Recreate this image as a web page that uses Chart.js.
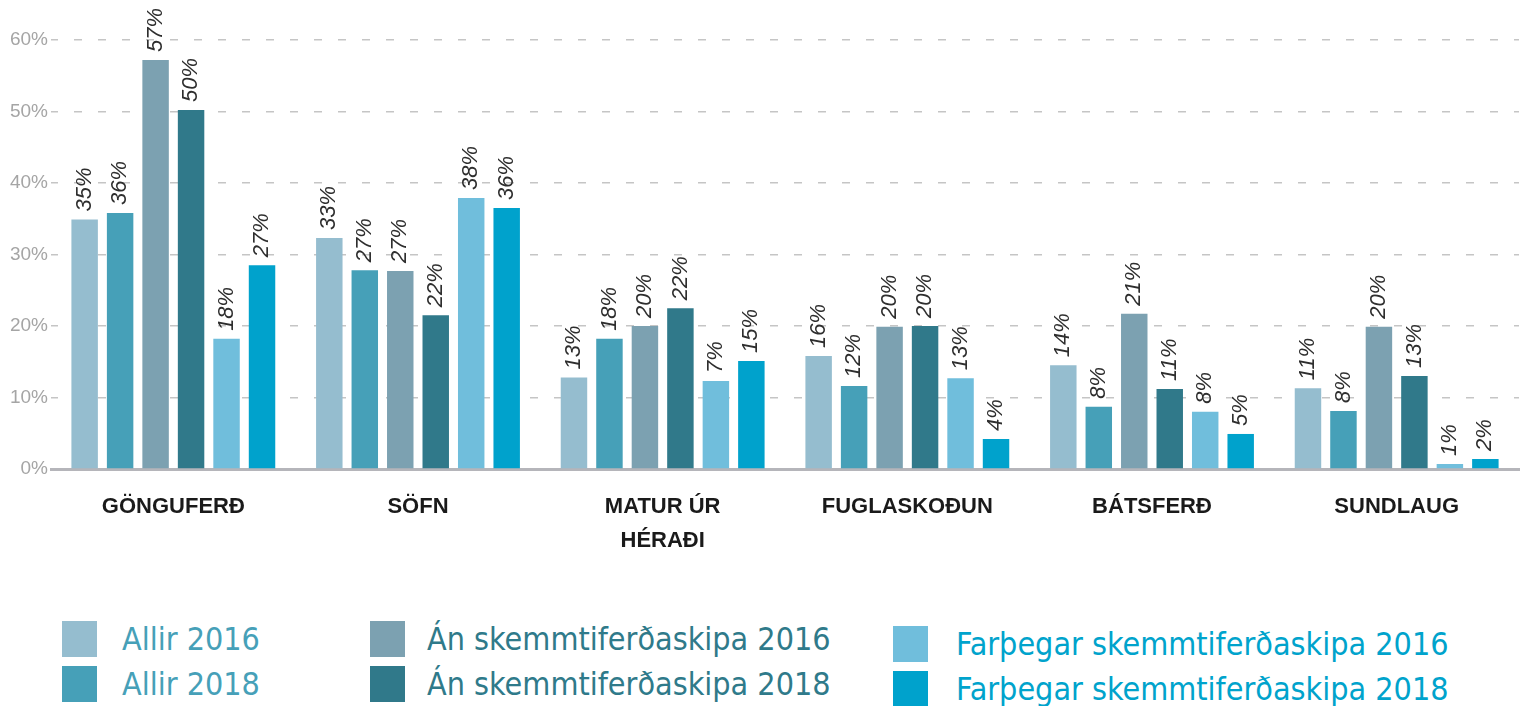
<!DOCTYPE html>
<html>
<head>
<meta charset="utf-8">
<script src="https://cdn.jsdelivr.net/npm/chart.js@4.4.1/dist/chart.umd.min.js"></script>
<style>
  html, body { margin: 0; padding: 0; background: #fff; }
  #wrap { position: relative; width: 1523px; height: 706px; overflow: hidden; }
  #chartBox { position: absolute; left: 0; top: 0; width: 1523px; height: 590px; }
  .leg { position: absolute; display: flex; align-items: center; font-family: 'DejaVu Sans Condensed', 'Liberation Sans Narrow', 'Liberation Sans', sans-serif; font-size: 32px; white-space: nowrap; }
  .leg span.box { display: inline-block; width: 35px; height: 36px; }
</style>
</head>
<body>
<div id="wrap">
  <div id="chartBox"><canvas id="myChart"></canvas></div>
  <div id="legend"></div>
</div>
<script>
const categories = ['GÖNGUFERÐ', 'SÖFN', ['MATUR ÚR', 'HÉRAÐI'], 'FUGLASKOÐUN', 'BÁTSFERÐ', 'SUNDLAUG'];

// bar heights (%)
const allir2016 = [34.9, 32.3, 12.8, 15.8, 14.5, 11.3];
const allir2018 = [35.8, 27.8, 18.2, 11.6, 8.7, 8.1];
const an2016 = [57.2, 27.7, 20.0, 19.9, 21.7, 19.9];
const an2018 = [50.2, 21.5, 22.5, 20.0, 11.2, 13.0];
const farthegar2016 = [18.2, 37.9, 12.3, 12.7, 8.0, 0.7];
const farthegar2018 = [28.5, 36.5, 15.1, 4.2, 4.9, 1.4];

// the printed labels (they don't always match the bar)
const allir2016Labels = [35, 33, 13, 16, 14, 11];
const allir2018Labels = [36, 27, 18, 12, 8, 8];
const an2016Labels = [57, 27, 20, 20, 21, 20];
const an2018Labels = [50, 22, 22, 20, 11, 13];
const farthegar2016Labels = [18, 38, 7, 13, 8, 1];
const farthegar2018Labels = [27, 36, 15, 4, 5, 2];

const yTicks = [0, 10, 20, 30, 40, 50, 60];

const series = [
    { label: 'Allir 2016', data: allir2016, shown: allir2016Labels, color: '#95bdcf' },
    { label: 'Allir 2018', data: allir2018, shown: allir2018Labels, color: '#46a0b8' },
    { label: 'Án skemmtiferðaskipa 2016', data: an2016, shown: an2016Labels, color: '#7ca1b1' },
    { label: 'Án skemmtiferðaskipa 2018', data: an2018, shown: an2018Labels, color: '#30798a' },
    { label: 'Farþegar skemmtiferðaskipa 2016', data: farthegar2016, shown: farthegar2016Labels, color: '#70bedc' },
    { label: 'Farþegar skemmtiferðaskipa 2018', data: farthegar2018, shown: farthegar2018Labels, color: '#00a2cc' }
];

const barLabels = {
    id: 'barLabels',
    afterDatasetsDraw(chart) {
        const c = chart.ctx;
        chart.data.datasets.forEach((ds, i) => {
            const meta = chart.getDatasetMeta(i);
            meta.data.forEach((bar, j) => {
                c.save();
                c.translate(bar.x, bar.y - 8);
                c.rotate(-Math.PI / 2);
                c.font = 'italic 22px "Liberation Sans", Arial, sans-serif';
                c.fillStyle = '#2e2e2e';
                c.textAlign = 'left';
                c.textBaseline = 'middle';
                c.fillText(ds.shown[j] + '%', 0, 0);
                c.restore();
            });
        });
    }
};

const ctx = document.getElementById('myChart');

new Chart(ctx, {
    type: 'bar',
    data: {
        labels: categories,
        datasets: series.map(s => ({
            label: s.label,
            data: s.data,
            shown: s.shown,
            backgroundColor: s.color,
            categoryPercentage: 0.87,
            barPercentage: 0.746
        }))
    },
    options: {
        responsive: true,
        maintainAspectRatio: false,
        animation: false,
        layout: { padding: { top: 40, right: 4, left: 0, bottom: 0 } },
        plugins: {
            legend: { display: false },
            tooltip: { enabled: false }
        },
        scales: {
            x: {
                grid: { display: false },
                border: { display: true, color: '#b5b5ba', width: 3 },
                ticks: {
                    color: '#1a1a1a',
                    padding: 13,
                    maxRotation: 0,
                    autoSkip: false,
                    font: { family: '"Liberation Sans", Arial, sans-serif', size: 22, weight: 'bold', lineHeight: 1.55 }
                },
                afterFit: (scale) => { scale.height = 121; }
            },
            y: {
                min: 0,
                max: 60,
                z: 1,
                afterBuildTicks: (scale) => { scale.ticks = yTicks.map(v => ({ value: v })); },
                afterFit: (scale) => { scale.width = 51; },
                grid: {
                    drawTicks: false,
                    lineWidth: 1.5,
                    color: (c) => c.tick && c.tick.value === 0 ? 'rgba(0,0,0,0)' : 'rgba(110,110,110,0.4)'
                },
                border: { display: false, dash: [8, 16], dashOffset: 1 },
                ticks: {
                    padding: 3,
                    color: '#a5a5a5',
                    font: { family: '"Liberation Sans", Arial, sans-serif', size: 19 },
                    callback: (value) => value + '%'
                }
            }
        }
    },
    plugins: [barLabels]
});

// legend: three columns, 2016 above 2018
const legendCols = [
    { left: 62, top: 620, gap: 25, text: '#46a0b8', items: [0, 1] },
    { left: 370, top: 620, gap: 22, text: '#2f7a8a', items: [2, 3] },
    { left: 893, top: 625, gap: 28, text: '#00a3cc', items: [4, 5] }
];
const legendEl = document.getElementById('legend');
legendCols.forEach(col => {
    col.items.forEach((idx, row) => {
        const item = document.createElement('div');
        item.className = 'leg';
        item.style.left = col.left + 'px';
        item.style.top = (col.top + row * 45) + 'px';
        item.style.color = col.text;
        item.innerHTML = '<span class="box" style="background:' + series[idx].color + ';margin-right:' + col.gap + 'px"></span>' + series[idx].label;
        legendEl.appendChild(item);
    });
});
</script>
</body>
</html>
